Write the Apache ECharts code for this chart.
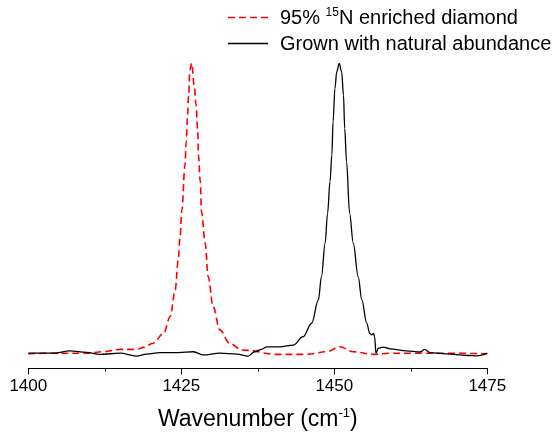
<!DOCTYPE html>
<html>
<head>
<meta charset="utf-8">
<script src="https://cdn.jsdelivr.net/npm/echarts@6/dist/echarts.min.js"></script>
<style>
  html, body { margin: 0; padding: 0; background: #fff; }
  #chart { width: 556px; height: 436px; }
</style>
</head>
<body>
<div id="chart"></div>
<script>
// Raman spectra, normalised intensity (a.u.) against wavenumber (cm^-1)
const enrichedWavenumber = [
  1400.0, 1404.1, 1409.5, 1412.3, 1415.0, 1417.7, 1418.8, 1420.4, 1422.1, 1423.2,
  1424.0, 1424.5, 1424.8, 1425.1, 1425.6, 1425.8, 1426.0, 1426.2, 1426.4, 1426.7,
  1427.1, 1427.4, 1427.7, 1427.8, 1428.1, 1428.3, 1428.9, 1429.4, 1430.2, 1431.3,
  1432.9, 1434.9, 1436.8, 1438.7, 1440.0, 1445.5, 1448.8, 1450.9, 1453.1, 1456.4,
  1459.1, 1464.0, 1468.0, 1475.0
];
const enrichedIntensity = [
  0.000, 0.002, 0.002, 0.007, 0.015, 0.015, 0.022, 0.036, 0.070, 0.128,
  0.219, 0.323, 0.403, 0.494, 0.649, 0.729, 0.810, 0.890, 0.976, 0.999,
  0.924, 0.856, 0.764, 0.684, 0.592, 0.489, 0.380, 0.265, 0.162, 0.082,
  0.036, 0.013, 0.010, 0.002, -0.002, -0.002, 0.007, 0.024, 0.007, -0.002,
  0.002, 0.002, 0.002, 0.000
];

const naturalWavenumber = [
  1400.0, 1404.1, 1406.8, 1409.5, 1411.7, 1415.0, 1417.7, 1419.3, 1421.5, 1424.5,
  1427.0, 1428.6, 1431.3, 1434.1, 1435.9, 1437.0, 1438.1, 1439.0, 1441.1, 1443.3,
  1444.9, 1446.3, 1447.4, 1447.9, 1448.5, 1448.9, 1449.3, 1449.6, 1449.8, 1450.1,
  1450.4, 1450.8, 1451.2, 1451.5, 1451.7, 1452.0, 1452.5, 1453.1, 1453.9, 1454.5,
  1455.3, 1455.8, 1456.1, 1456.4, 1456.6, 1456.8, 1457.2, 1458.0, 1459.1, 1461.8,
  1464.0, 1464.8, 1465.6, 1468.9, 1471.9, 1473.3, 1475.0
];
const naturalIntensity = [
  0.002, 0.002, 0.010, 0.005, -0.002, 0.002, -0.008, -0.001, 0.004, 0.004,
  0.007, -0.004, 0.002, -0.001, -0.008, 0.007, 0.015, 0.024, 0.024, 0.030,
  0.059, 0.105, 0.185, 0.265, 0.380, 0.483, 0.592, 0.684, 0.798, 0.913,
  0.970, 0.999, 0.970, 0.890, 0.775, 0.661, 0.483, 0.380, 0.265, 0.185,
  0.105, 0.070, 0.065, 0.070, 0.058, 0.002, 0.019, 0.023, 0.017, 0.010,
  0.006, 0.015, 0.004, -0.001, -0.006, -0.007, 0.002
];

const seriesNames = ['95% 15N enriched diamond', 'Grown with natural abundance'];
const legendLabels = ['95% {sup|15}N enriched diamond', 'Grown with natural abundance'];
const seriesColors = ['#ff0000', '#000000'];
const xTicks = [1400, 1425, 1450, 1475];

const FONT = 'Arial, "Liberation Sans", sans-serif';
const DASH = [7, 4];

function pairs(xs, ys) {
  return xs.map((x, i) => [x, ys[i]]);
}

// Two-row key in the top right corner: a line sample followed by its label
function legendRows() {
  const rowY = [17.5, 43.5];
  const items = [];
  seriesNames.forEach((name, i) => {
    items.push({
      type: 'line',
      shape: { x1: 228, y1: rowY[i], x2: 268, y2: rowY[i] },
      style: {
        stroke: seriesColors[i],
        lineWidth: i === 0 ? 1.5 : 1.3,
        lineDash: i === 0 ? DASH : null
      },
      silent: true
    });
    items.push({
      type: 'text',
      x: 280,
      y: rowY[i] + 1,
      style: {
        text: legendLabels[i],
        fontFamily: FONT,
        fontSize: 20,
        fill: '#000',
        verticalAlign: 'middle',
        align: 'left',
        rich: {
          sup: { fontFamily: FONT, fontSize: 12, fill: '#000', padding: [0, 0, 11, 0] }
        }
      },
      silent: true
    });
  });
  return items;
}

const chart = echarts.init(document.getElementById('chart'), null, { renderer: 'canvas' });

chart.setOption({
  animation: false,
  backgroundColor: '#ffffff',
  grid: {
    left: 28.3, right: 68.7, top: 63, bottom: 67.7,
    containLabel: false,
    outerBoundsMode: 'none'
  },
  graphic: legendRows(),
  xAxis: {
    type: 'value',
    min: xTicks[0],
    max: xTicks[xTicks.length - 1],
    interval: xTicks[1] - xTicks[0],
    name: 'Wavenumber (cm{sup|-1})',
    nameLocation: 'middle',
    nameGap: 39,
    nameTextStyle: {
      fontFamily: FONT,
      fontSize: 23,
      color: '#000',
      rich: {
        sup: { fontFamily: FONT, fontSize: 13, color: '#000', padding: [0, 0, 12, 0] }
      }
    },
    axisLine: { show: true, onZero: false, lineStyle: { color: '#000', width: 1 } },
    axisTick: { show: true, inside: false, length: 6, lineStyle: { color: '#000', width: 1 } },
    minorTick: { show: true, splitNumber: 2, length: 3.5, lineStyle: { color: '#000', width: 1 } },
    axisLabel: {
      fontFamily: FONT, fontSize: 17, color: '#000', margin: 10,
      formatter: v => String(v)
    },
    splitLine: { show: false },
    minorSplitLine: { show: false }
  },
  yAxis: {
    type: 'value',
    min: -0.05,
    max: 1,
    show: false,
    splitLine: { show: false }
  },
  series: [
    {
      name: seriesNames[0],
      type: 'line',
      data: pairs(enrichedWavenumber, enrichedIntensity),
      showSymbol: false,
      symbol: 'none',
      smooth: 0.35,
      smoothMonotone: 'x',
      lineStyle: { color: seriesColors[0], width: 1.6, type: DASH },
      z: 2
    },
    {
      name: seriesNames[1],
      type: 'line',
      data: pairs(naturalWavenumber, naturalIntensity),
      showSymbol: false,
      symbol: 'none',
      smooth: 0.35,
      smoothMonotone: 'x',
      lineStyle: { color: seriesColors[1], width: 1.3 },
      z: 3
    }
  ]
});
</script>
</body>
</html>
